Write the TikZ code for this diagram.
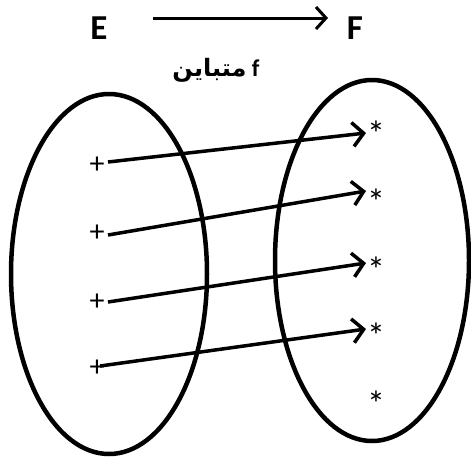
\documentclass[tikz,border=0pt]{standalone}
\usepackage{fontspec}
\setmainfont{Carlito}
\newfontfamily\arabicfont[Script=Arabic]{DejaVu Sans}
\TeXXeTstate=1
\usetikzlibrary{arrows.meta}
\tikzset{
  setbox/.style={draw=black, line width=4.5pt},
  maparrow/.style={line width=3.5pt, -{Straight Barb[length=11pt,width=24pt,line width=3.5pt]}},
  plusel/.style={inner sep=0pt, font=\fontsize{30}{30}\selectfont},
  starel/.style={inner sep=0pt, font=\fontsize{36}{36}\selectfont},
  setname/.style={inner sep=0pt, font=\fontsize{35}{35}\selectfont\bfseries},
}
\begin{document}
\begin{tikzpicture}[x=1pt,y=-1pt]
\useasboundingbox (0,0) rectangle (471,461);
% set names and top arrow
\node[setname] (E) at (99,28) {E};
\node[setname] (F) at (355,28) {F};
\coordinate (t1) at (153,18);
\coordinate (t2) at (328,18);
\draw[line width=3pt, -{Straight Barb[length=10pt,width=22pt,line width=3pt]}] (t1) -- (t2);
\node[inner sep=0pt, font=\fontsize{24}{24}\selectfont\bfseries] (lab) at (216,70) {{\arabicfont\beginR متباين\endR} f};
% sets
\draw[setbox] (109,274) ellipse [x radius=98, y radius=180];
\draw[setbox] (372,260.5) ellipse [x radius=97, y radius=180.5];
% elements
\node[plusel] (p1) at (97,165) {+};
\node[plusel] (p2) at (97,233) {+};
\node[plusel] (p3) at (97,302) {+};
\node[plusel] (p4) at (97,368) {+};
\node[starel] (s1) at (376,134) {*};
\node[starel] (s2) at (376,202) {*};
\node[starel] (s3) at (376,270) {*};
\node[starel] (s4) at (376,336) {*};
\node[starel] (s5) at (376,404) {*};
% arrow ends
\coordinate (a1) at (108,162);
\coordinate (a2) at (108,235);
\coordinate (a3) at (108,302);
\coordinate (a4) at (100,366);
\coordinate (b1) at (366,133);
\coordinate (b2) at (366,191);
\coordinate (b3) at (366,263);
\coordinate (b4) at (366,329);
\draw[maparrow] (a1) -- (b1);
\draw[maparrow] (a2) -- (b2);
\draw[maparrow] (a3) -- (b3);
\draw[maparrow] (a4) -- (b4);
\end{tikzpicture}
\end{document}
